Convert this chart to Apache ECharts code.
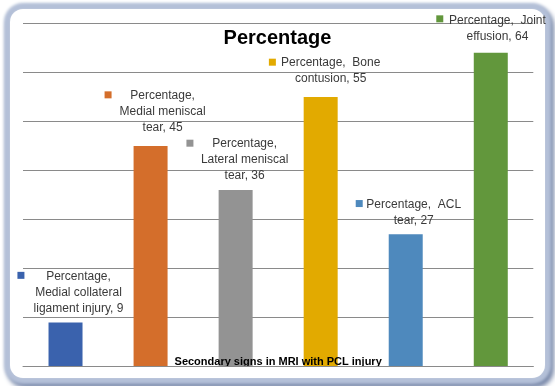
<!DOCTYPE html>
<html>
<head>
<meta charset="utf-8">
<script src="https://cdn.jsdelivr.net/npm/echarts@6/dist/echarts.min.js"></script>
<style>
html,body{margin:0;padding:0;background:#fff;width:555px;height:386px;overflow:hidden;}
#card{position:absolute;left:10px;top:9px;width:535px;height:369px;border-radius:13px;background:#fff;
  box-shadow: 0 0 0 1px #b9c4da, 0 0 3px 6px #b4c0d8, 3px 4px 5px 6px #7484a6;}
#chart{position:absolute;left:0;top:0;width:555px;height:386px;}
</style>
</head>
<body>
<div id="card"></div>
<div id="chart"></div>
<script>
const seriesName = 'Percentage';
const categories = ['Medial collateral ligament injury', 'Medial meniscal tear', 'Lateral meniscal tear', 'Bone contusion', 'ACL tear', 'Joint effusion'];
const values = [9, 45, 36, 55, 27, 64];
const yTicks = [0, 10, 20, 30, 40, 50, 60, 70];
const xAxisTitle = 'Secondary signs in MRI with PCL injury';

// styling (not data)
const colors = ['#3a62ad', '#d46e2b', '#939393', '#e2aa00', '#4e89bd', '#62973c'];
const lineWords = [[1, 2, 3], [1, 2, 2], [1, 2, 2], [2, 2], [2, 2], [2, 2]];
const textOffsets = [[13, -5.7], [12, -10.4], [9, -6.4], [10, -10.6], [8, -5.5], [6.7, -8]];
const keyOffsets = [[-44.6, -43.7], [-42.5, -47.6], [-45.7, -43.4], [-48.3, -31.2], [-46.5, -27.2], [-51, -30.4]];

function wrapLabel(i) {
  const words = (seriesName + ', ' + categories[i] + ', ' + values[i]).split(' ');
  const lines = [];
  let k = 0;
  lineWords[i].forEach(n => { lines.push(words.slice(k, k + n).join(n === 2 && lines.length === 0 ? '  ' : ' ')); k += n; });
  if (k < words.length) lines[lines.length - 1] += ' ' + words.slice(k).join(' ');
  return lines.join('\n');
}

const chart = echarts.init(document.getElementById('chart'), null, {renderer: 'canvas'});
const font = 'Liberation Sans, Arial, sans-serif';
chart.setOption({
  backgroundColor: 'transparent',
  animation: false,
  title: {
    text: seriesName, left: 'center', top: 23,
    textStyle: {fontSize: 20, fontWeight: 'bold', color: '#000', fontFamily: font}
  },
  grid: {left: 23, right: 21.7, top: 23.3, bottom: 19.3, containLabel: false},
  xAxis: {
    type: 'category', data: categories, z: 10,
    axisTick: {show: false}, axisLabel: {show: false},
    axisLine: {lineStyle: {color: '#8a8a8a', width: 1}},
    name: xAxisTitle, nameLocation: 'middle', nameGap: -10,
    nameTextStyle: {fontSize: 11, fontWeight: 'bold', color: '#000', fontFamily: font}
  },
  yAxis: {
    type: 'value', min: yTicks[0], max: yTicks[yTicks.length - 1], interval: yTicks[1] - yTicks[0],
    axisLabel: {show: false}, axisTick: {show: false}, axisLine: {show: false},
    splitLine: {lineStyle: {color: '#8a8a8a', width: 1}}
  },
  series: [
    {
      name: seriesName, type: 'bar', barWidth: 34, z: 2,
      data: values.map((v, i) => ({
        value: v,
        itemStyle: {color: colors[i]},
        label: {
          show: true, position: 'top', distance: 0, offset: textOffsets[i],
          formatter: () => wrapLabel(i),
          fontSize: 12, lineHeight: 16, color: '#3a3a3a', fontFamily: font, align: 'center'
        }
      }))
    },
    {
      name: 'key', type: 'bar', barWidth: 34, barGap: '-100%', z: 3,
      itemStyle: {color: 'rgba(0,0,0,0)'}, silent: true,
      data: values.map((v, i) => ({
        value: v,
        label: {
          show: true, position: 'top', distance: 0, offset: keyOffsets[i],
          formatter: '{k|}',
          rich: {k: {width: 7, height: 7, backgroundColor: colors[i]}}
        }
      }))
    }
  ]
});
</script>
</body>
</html>
